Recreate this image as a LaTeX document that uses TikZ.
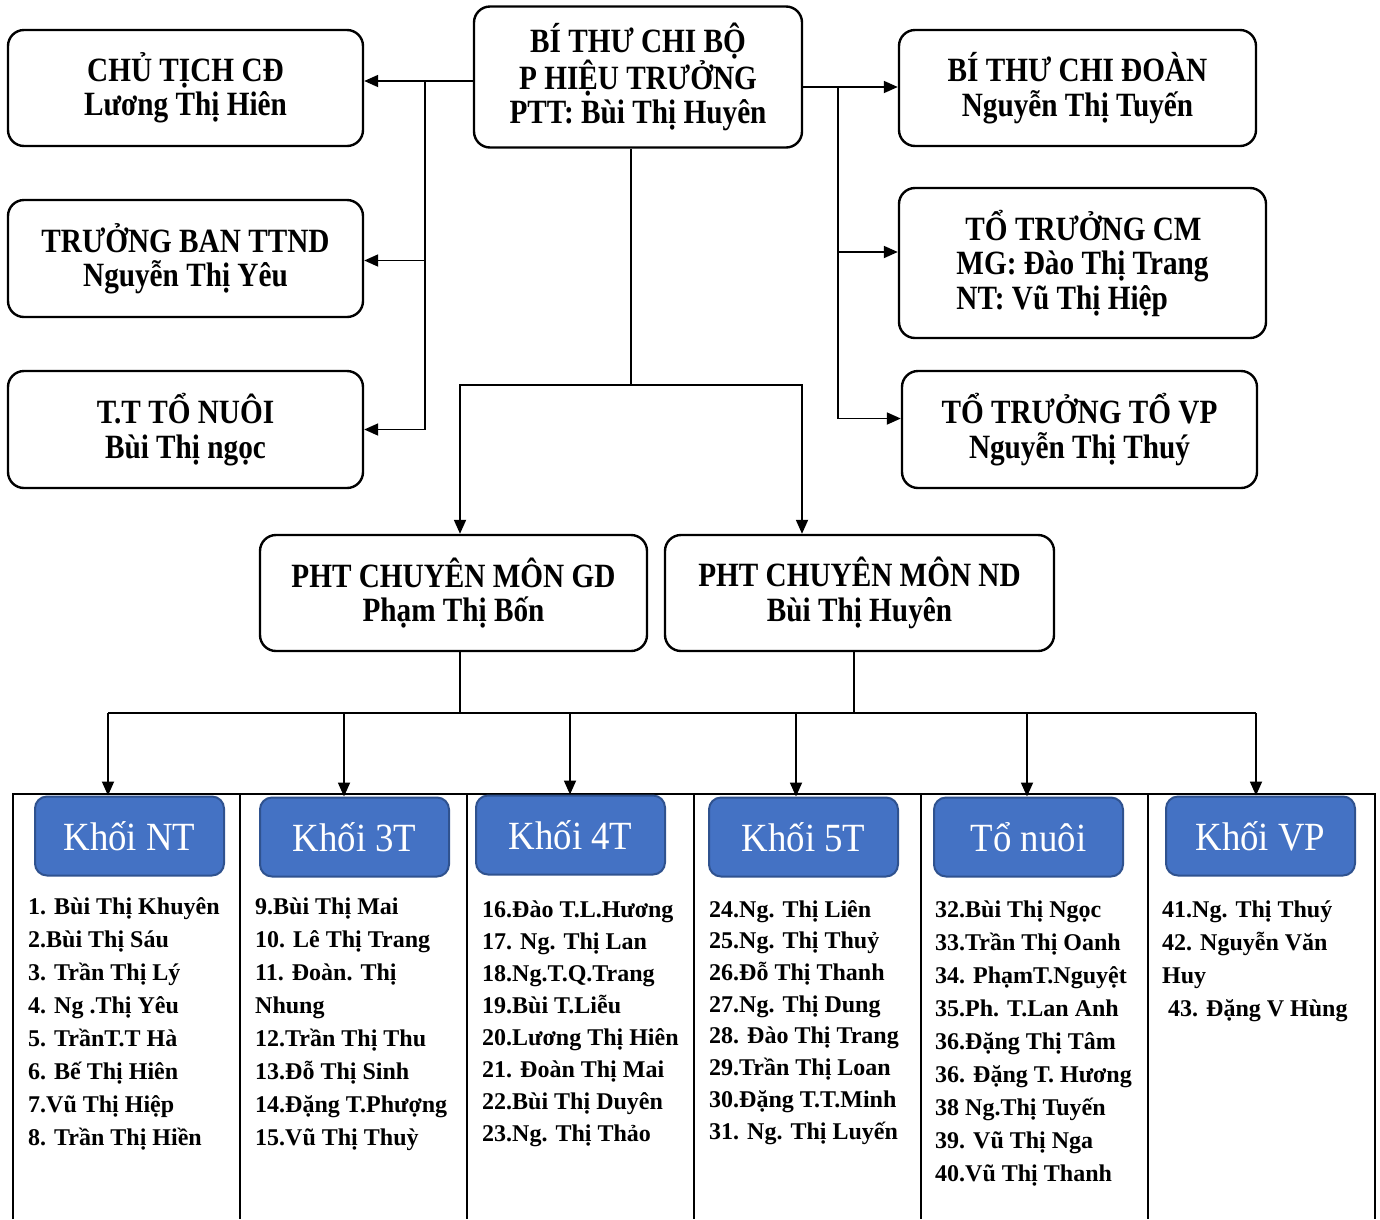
\documentclass[tikz,border=0pt]{standalone}
\usepackage{fontspec}
\setmainfont{Liberation Serif}
\newfontfamily\hopfont{Liberation Serif}[FakeStretch=0.86]
\newfontfamily\khoifont{Liberation Serif}[FakeStretch=0.92]
\usetikzlibrary{arrows.meta,positioning}
\definecolor{khoixanh}{HTML}{4472C4}
\definecolor{khoivien}{HTML}{2F528F}
\begin{document}
\begin{tikzpicture}[x=1pt,y=-1pt,
    chucvu/.style={draw,line width=2.4pt,rounded corners=16pt,align=center,inner sep=0pt,
      font=\hopfont\bfseries\fontsize{34}{34.5}\selectfont},
    khoi/.style={draw=khoivien,fill=khoixanh,line width=2pt,rounded corners=12pt,
      minimum width=189pt,minimum height=79pt,text=white,
      font=\khoifont\fontsize{40}{42}\selectfont},
    danhsach/.style={anchor=base west,align=left,inner sep=0pt,
      font=\bfseries\fontsize{24}{#1}\selectfont},
    danhsach/.default=33,
    muiten/.style={-{Triangle[length=14pt,width=12pt]},line width=1.8pt}]

      \useasboundingbox (0,0) rectangle (1380,1219);

      \begin{scope}[every node/.style={chucvu}]
        \node[minimum width=328pt,minimum height=141pt] (bithu)   at (638,77)
          {BÍ THƯ CHI BỘ\\P HIỆU TRƯỞNG\\PTT: Bùi Thị Huyên};
        \node[minimum width=355pt,minimum height=116pt] (chutich) at (185.5,88)
          {CHỦ TỊCH CĐ\\Lương Thị Hiên};
        \node[minimum width=355pt,minimum height=117pt] (ttnd)    at (185.5,258.5)
          {TRƯỞNG BAN TTND\\Nguyễn Thị Yêu};
        \node[minimum width=355pt,minimum height=117pt] (tonuoi)  at (185.5,429.5)
          {T.T TỔ NUÔI\\Bùi Thị ngọc};
        \node[minimum width=357pt,minimum height=116pt] (chidoan) at (1077.5,88)
          {BÍ THƯ CHI ĐOÀN\\Nguyễn Thị Tuyến};
        \node[minimum width=367pt,minimum height=150pt,align=left] (tocm) at (1082.5,263)
          {\hspace*{9pt}TỔ TRƯỞNG CM\\MG: Đào Thị Trang\\NT: Vũ Thị Hiệp};
        \node[minimum width=355pt,minimum height=117pt] (tovp)    at (1079.5,429.5)
          {TỔ TRƯỞNG TỔ VP\\Nguyễn Thị Thuý};
        \node[minimum width=387pt,minimum height=116pt] (phtgd)   at (453.5,593)
          {PHT CHUYÊN MÔN GD\\Phạm Thị Bốn};
        \node[minimum width=389pt,minimum height=116pt] (phtnd)   at (859.5,593)
          {PHT CHUYÊN MÔN ND\\Bùi Thị Huyên};
      \end{scope}

      % bang khoi
      \draw[line width=2pt] (13,1219) -- (13,794) -- (1375,794) -- (1375,1219);
      \foreach \x in {240,467,694,921,1148}
        \draw[line width=2pt] (\x,794) -- (\x,1219);

      \begin{scope}[every node/.style={khoi}]
        \node (khoi1) at (129.5,836)  {Khối NT};
        \node (khoi2) at (354.5,837)  {Khối 3T};
        \node (khoi3) at (570.5,835)  {Khối 4T};
        \node (khoi4) at (803.5,837)  {Khối 5T};
        \node (khoi5) at (1028.5,837) {Tổ nuôi};
        \node (khoi6) at (1260.5,836) {Khối VP};
      \end{scope}

      % danh sach: dat theo dong cuoi
      \node[danhsach] (ds1) at (28,1145)
        {1. Bùi Thị Khuyên\\2.Bùi Thị Sáu\\3. Trần Thị Lý\\4. Ng .Thị Yêu\\5. TrầnT.T Hà\\
         6. Bế Thị Hiên\\7.Vũ Thị Hiệp\\8. Trần Thị Hiền};
      \node[danhsach] (ds2) at (255,1145)
        {9.Bùi Thị Mai\\10. Lê Thị Trang\\11. Đoàn. Thị\\Nhung\\12.Trần Thị Thu\\
         13.Đỗ Thị Sinh\\14.Đặng T.Phượng\\15.Vũ Thị Thuỳ};
      \node[danhsach=32] (ds3) at (482,1141)
        {16.Đào T.L.Hương\\17. Ng. Thị Lan\\18.Ng.T.Q.Trang\\19.Bùi T.Liễu\\
         20.Lương Thị Hiên\\21. Đoàn Thị Mai\\22.Bùi Thị Duyên\\23.Ng. Thị Thảo};
      \node[danhsach=31.7] (ds4) at (709,1139)
        {24.Ng. Thị Liên\\25.Ng. Thị Thuỷ\\26.Đỗ Thị Thanh\\27.Ng. Thị Dung\\
         28. Đào Thị Trang\\29.Trần Thị Loan\\30.Đặng T.T.Minh\\31. Ng. Thị Luyến};
      \node[danhsach] (ds5) at (935,1181)
        {32.Bùi Thị Ngọc\\33.Trần Thị Oanh\\34. PhạmT.Nguyệt\\35.Ph. T.Lan Anh\\
         36.Đặng Thị Tâm\\36. Đặng T. Hương\\38 Ng.Thị Tuyến\\39. Vũ Thị Nga\\40.Vũ Thị Thanh};
      \node[danhsach] (ds6) at (1162,1016)
        {41.Ng. Thị Thuý\\42. Nguyễn Văn\\Huy\\\hspace*{6pt}43. Đặng V Hùng};

      \coordinate (trai) at (425,81);
      \coordinate (phai) at (838,87);
      \coordinate (giua) at (631,385);
      \draw[muiten] (bithu.west |- trai) -- (chutich.east |- trai);
      \draw[muiten] (trai) |- ([yshift=-2pt]ttnd.east);
      \draw[muiten] (trai) |- (tonuoi.east);
      \draw[muiten] (bithu.east |- phai) -- (chidoan.west |- phai);
      \draw[muiten] (phai) |- ([yshift=11pt]tocm.west);
      \draw[muiten] (phai) |- ([yshift=11pt]tovp.west);
      \draw[line width=1.8pt] (bithu.south -| giua) -- (giua);
      \draw[muiten] (giua) -| ([xshift=6.5pt]phtgd.north);
      \draw[muiten] (giua) -| ([xshift=-57.5pt]phtnd.north);

      \foreach \x [count=\i] in {108,344,570,796,1027,1256}
        \coordinate (roi\i) at (\x,713);
      \coordinate (nga1) at (460,713);
      \coordinate (nga2) at (854,713);
      \draw[line width=1.8pt] (phtgd.south -| nga1) -- (nga1);
      \draw[line width=1.8pt] (phtnd.south -| nga2) -- (nga2);
      \draw[line width=1.8pt] (roi1) -- (roi6);
      \foreach \i in {1,...,6}
        \draw[muiten] (roi\i) -- (roi\i |- khoi\i.north);

    \end{tikzpicture}
\end{document}
